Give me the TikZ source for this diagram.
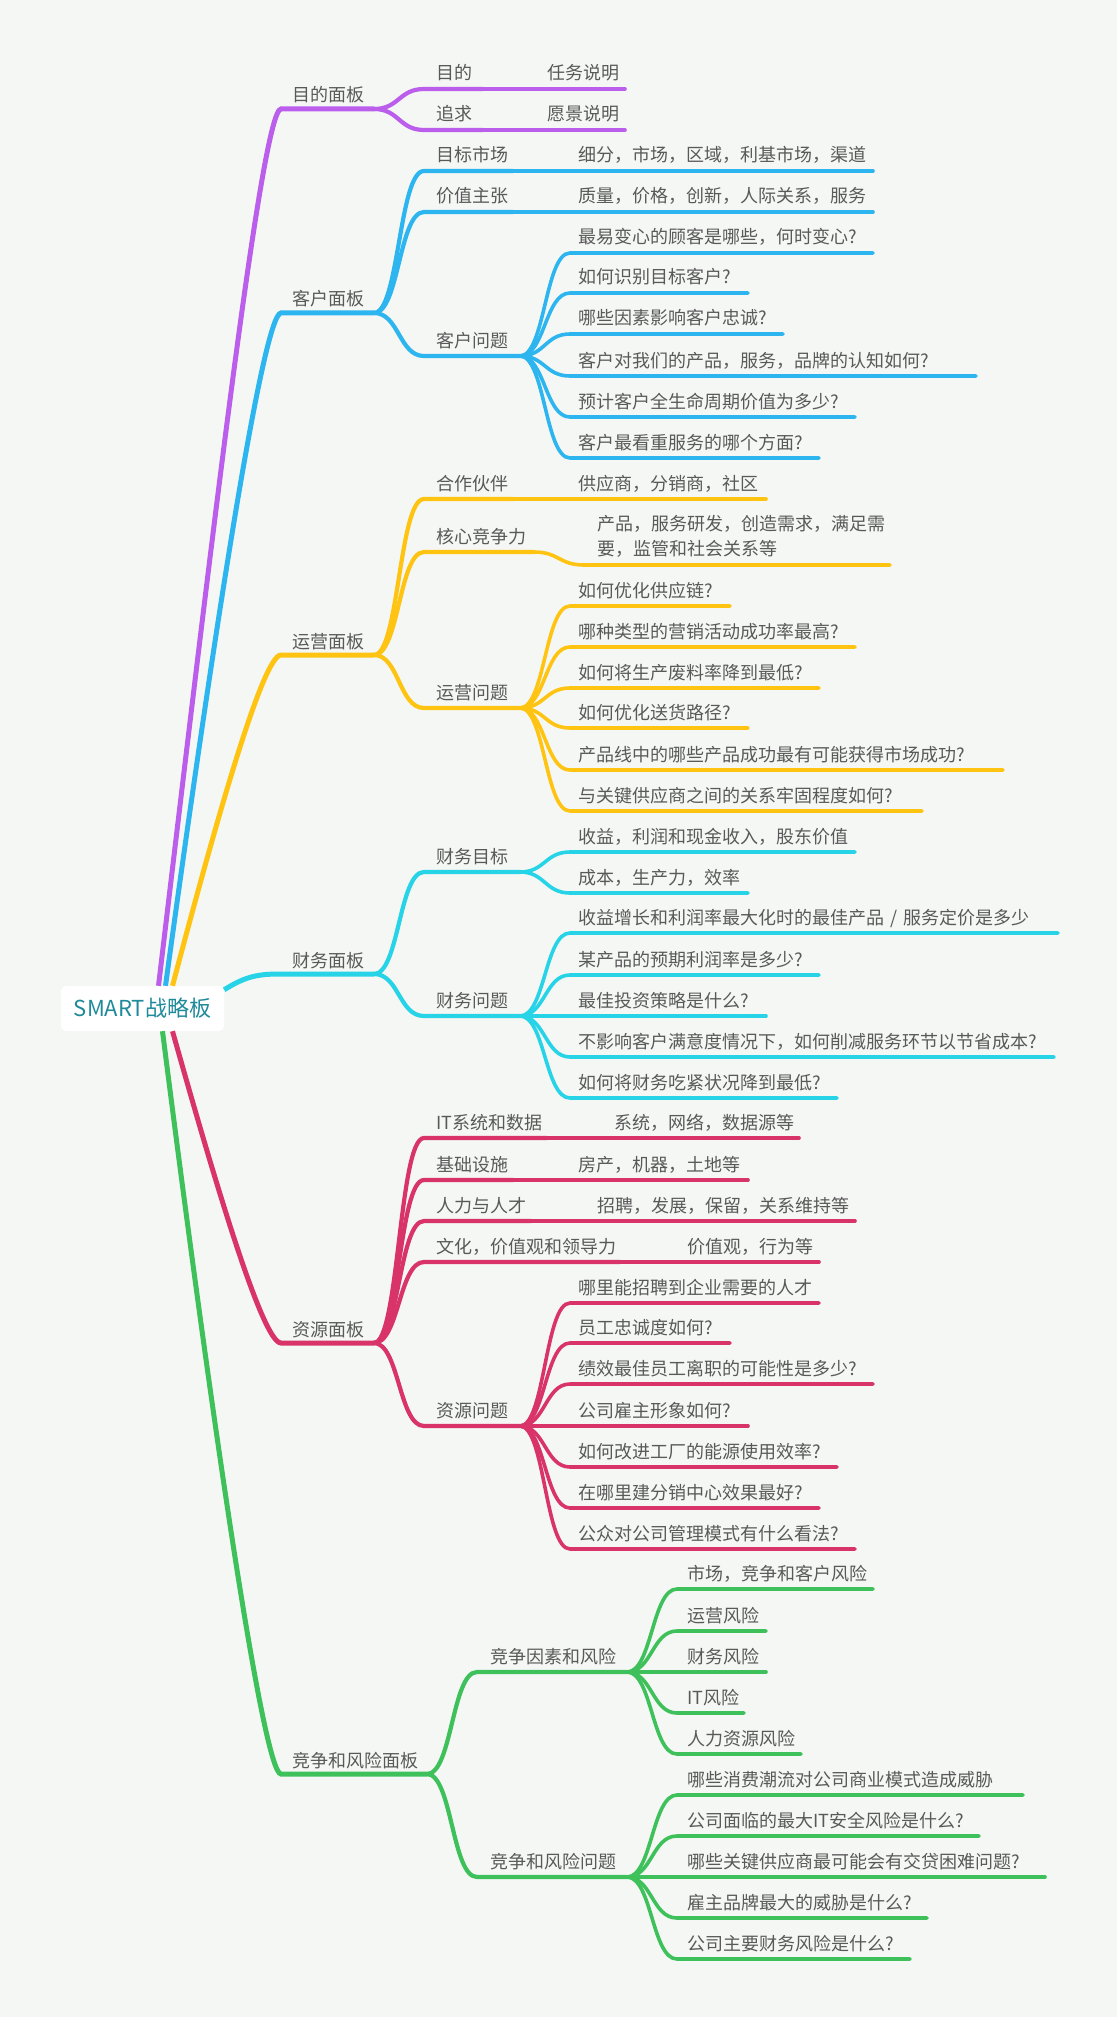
\documentclass[tikz,border=0pt]{standalone}
\usepackage{fontspec}
\setmainfont{Noto Sans CJK SC}
\usepackage{tikz}
\definecolor{bg}{HTML}{F5F7F5}
\definecolor{txtgray}{HTML}{595959}
\definecolor{rootc}{HTML}{1F8A99}
\definecolor{cpurple}{HTML}{BA5EEB}
\definecolor{cblue}{HTML}{2DB5F0}
\definecolor{cyellow}{HTML}{FFC412}
\definecolor{ccyan}{HTML}{27D3E6}
\definecolor{cred}{HTML}{D9346A}
\definecolor{cgreen}{HTML}{3EC15A}
\def\padw{8}
\tikzset{
	centre/.style={
		fill=white, rounded corners=5pt, inner sep=0pt,
		minimum width=163pt, minimum height=45pt,
		text=rootc, font=\fontsize{22}{26}\selectfont
	},
	topic/.style={
		anchor=south west, inner sep=0pt, inner ysep=6pt, outer sep=0pt,
		text height=14pt, text depth=3pt, text width=#1pt,
		text=txtgray, font=\fontsize{18}{25}\selectfont,
		execute at begin node={\hspace*{\padw pt}}
	},
	tpad/.code={\def\padw{#1}},
	board/.style={topic=#1, inner ysep=4pt, tpad=11},
	facet/.style={topic=#1, tpad=12},
	leaf/.style={topic=#1, tpad=8},
	trunk/.style={line width=5pt, line cap=butt},
	twig/.style={line width=4.2pt, line cap=round},
	leafline/.style={line width=3.6pt, line cap=round},
	curl/.style={to path={.. controls +(25,0) and +(-25,0) .. (\tikztotarget)}}
}
\begin{document}
\begin{tikzpicture}[x=1pt, y=-1pt]
	\useasboundingbox (0,0) rectangle (1117,2017);
	\fill[bg] (0,0) rectangle (1117,2017);

	% centre and boards
	\node[centre] (root) at (142.5,1008.5) {SMART战略板};
	\node[board=93]  (pa) at (281,109)  {目的面板};
	\node[board=93]  (pb) at (281,313)  {客户面板};
	\node[board=93]  (pc) at (281,655)  {运营面板};
	\node[board=93]  (pd) at (281,974)  {财务面板};
	\node[board=93]  (pe) at (281,1343) {资源面板};
	\node[board=146] (pf) at (281,1774) {竞争和风险面板};

	\draw[trunk, cpurple] ([shift={(16,0)}]root.north) .. controls +(52,-436) and +(-19,0) .. (pa.south west) -- (pa.south east);
	\draw[trunk, cblue]   ([shift={(23,0)}]root.north) .. controls +(46,-336) and +(-18,0) .. (pb.south west) -- (pb.south east);
	\draw[trunk, cyellow] ([shift={(30,0)}]root.north) .. controls +(44,-166) and +(-18,0) .. (pc.south west) -- (pc.south east);
	\draw[trunk, ccyan]   ([shift={(0,4)}]root.north east) .. controls +(22,-14) and +(-22,0) .. (pd.south west) -- (pd.south east);
	\draw[trunk, cred]    ([shift={(30,0)}]root.south) .. controls +(44,156) and +(-18,0) .. (pe.south west) -- (pe.south east);
	\draw[trunk, cgreen]  ([shift={(20,0)}]root.south) .. controls +(47,371) and +(-18,0) .. (pf.south west) -- (pf.south east);

	% purpose board
	\node[facet=59] (pa1) at (424,89) {目的};
	\node[leaf=142, tpad=64] (pa1v) at (483,89) {任务说明};
	\node[facet=59] (pa2) at (424,130) {追求};
	\node[leaf=142, tpad=64] (pa2v) at (483,130) {愿景说明};
	\draw[twig, cpurple] (pa.south east) to[curl] (pa1.south west) -- (pa1.south east);
	\draw[twig, cpurple] (pa.south east) to[curl] (pa2.south west) -- (pa2.south east);
	\draw[leafline, cpurple] (pa1v.south west) -- (pa1v.south east);
	\draw[leafline, cpurple] (pa2v.south west) -- (pa2v.south east);

	% customer board
	\node[facet=89] (pb1) at (424,171) {目标市场};
	\node[leaf=360, tpad=65] (pb1v) at (513,171) {细分，市场，区域，利基市场，渠道};
	\node[facet=89] (pb2) at (424,212) {价值主张};
	\node[leaf=360, tpad=65] (pb2v) at (513,212) {质量，价格，创新，人际关系，服务};
	\node[facet=96] (pb3) at (424,356) {客户问题};
	\node[leaf=303] (pb3a) at (570,253) {最易变心的顾客是哪些，何时变心?};
	\node[leaf=178] (pb3b) at (570,293) {如何识别目标客户?};
	\node[leaf=213] (pb3c) at (570,334) {哪些因素影响客户忠诚?};
	\node[leaf=406] (pb3d) at (570,376) {客户对我们的产品，服务，品牌的认知如何?};
	\node[leaf=285] (pb3e) at (570,417) {预计客户全生命周期价值为多少?};
	\node[leaf=249] (pb3f) at (570,458) {客户最看重服务的哪个方面?};
	\draw[twig, cblue] (pb.south east) to[curl] (pb1.south west) -- (pb1.south east);
	\draw[twig, cblue] (pb.south east) to[curl] (pb2.south west) -- (pb2.south east);
	\draw[twig, cblue] (pb.south east) to[curl] (pb3.south west) -- (pb3.south east);
	\draw[leafline, cblue] (pb1v.south west) -- (pb1v.south east);
	\draw[leafline, cblue] (pb2v.south west) -- (pb2v.south east);
	\draw[leafline, cblue] (pb3.south east) to[curl] (pb3a.south west) -- (pb3a.south east);
	\draw[leafline, cblue] (pb3.south east) to[curl] (pb3b.south west) -- (pb3b.south east);
	\draw[leafline, cblue] (pb3.south east) to[curl] (pb3c.south west) -- (pb3c.south east);
	\draw[leafline, cblue] (pb3.south east) to[curl] (pb3d.south west) -- (pb3d.south east);
	\draw[leafline, cblue] (pb3.south east) to[curl] (pb3e.south west) -- (pb3e.south east);
	\draw[leafline, cblue] (pb3.south east) to[curl] (pb3f.south west) -- (pb3f.south east);

	% operations board
	\node[facet=89] (pc1) at (424,499) {合作伙伴};
	\node[leaf=253, tpad=65] (pc1v) at (513,499) {供应商，分销商，社区};
	\node[facet=110] (pc2) at (424,552) {核心竞争力};
	\node[leaf=306, tpad=13, text depth=, inner ysep=7.5pt] (pc2v) at (584,565)
		{产品，服务研发，创造需求，满足需\\\hspace*{13pt}要，监管和社会关系等};
	\node[facet=96] (pc3) at (424,708) {运营问题};
	\node[leaf=160] (pc3a) at (570,606) {如何优化供应链?};
	\node[leaf=285] (pc3b) at (570,647) {哪种类型的营销活动成功率最高?};
	\node[leaf=249] (pc3c) at (570,688) {如何将生产废料率降到最低?};
	\node[leaf=178] (pc3d) at (570,728) {如何优化送货路径?};
	\node[leaf=433] (pc3e) at (570,770) {产品线中的哪些产品成功最有可能获得市场成功?};
	\node[leaf=352] (pc3f) at (570,811) {与关键供应商之间的关系牢固程度如何?};
	\draw[twig, cyellow] (pc.south east) to[curl] (pc1.south west) -- (pc1.south east);
	\draw[twig, cyellow] (pc.south east) to[curl] (pc2.south west) -- (pc2.south east);
	\draw[twig, cyellow] (pc.south east) to[curl] (pc3.south west) -- (pc3.south east);
	\draw[leafline, cyellow] (pc1v.south west) -- (pc1v.south east);
	\draw[leafline, cyellow] (pc2.south east) to[curl] (pc2v.south west) -- (pc2v.south east);
	\draw[leafline, cyellow] (pc3.south east) to[curl] (pc3a.south west) -- (pc3a.south east);
	\draw[leafline, cyellow] (pc3.south east) to[curl] (pc3b.south west) -- (pc3b.south east);
	\draw[leafline, cyellow] (pc3.south east) to[curl] (pc3c.south west) -- (pc3c.south east);
	\draw[leafline, cyellow] (pc3.south east) to[curl] (pc3d.south west) -- (pc3d.south east);
	\draw[leafline, cyellow] (pc3.south east) to[curl] (pc3e.south west) -- (pc3e.south east);
	\draw[leafline, cyellow] (pc3.south east) to[curl] (pc3f.south west) -- (pc3f.south east);

	% finance board
	\node[facet=96] (pd1) at (424,872) {财务目标};
	\node[leaf=285] (pd1a) at (570,852) {收益，利润和现金收入，股东价值};
	\node[leaf=178] (pd1b) at (570,893) {成本，生产力，效率};
	\node[facet=96] (pd2) at (424,1016) {财务问题};
	\node[leaf=488] (pd2a) at (570,933) {收益增长和利润率最大化时的最佳产品 / 服务定价是多少};
	\node[leaf=249] (pd2b) at (570,975) {某产品的预期利润率是多少?};
	\node[leaf=196] (pd2c) at (570,1016) {最佳投资策略是什么?};
	\node[leaf=484] (pd2d) at (570,1057) {不影响客户满意度情况下，如何削减服务环节以节省成本?};
	\node[leaf=267] (pd2e) at (570,1098) {如何将财务吃紧状况降到最低?};
	\draw[twig, ccyan] (pd.south east) to[curl] (pd1.south west) -- (pd1.south east);
	\draw[twig, ccyan] (pd.south east) to[curl] (pd2.south west) -- (pd2.south east);
	\draw[leafline, ccyan] (pd1.south east) to[curl] (pd1a.south west) -- (pd1a.south east);
	\draw[leafline, ccyan] (pd1.south east) to[curl] (pd1b.south west) -- (pd1b.south east);
	\draw[leafline, ccyan] (pd2.south east) to[curl] (pd2a.south west) -- (pd2a.south east);
	\draw[leafline, ccyan] (pd2.south east) to[curl] (pd2b.south west) -- (pd2b.south east);
	\draw[leafline, ccyan] (pd2.south east) to[curl] (pd2c.south west) -- (pd2c.south east);
	\draw[leafline, ccyan] (pd2.south east) to[curl] (pd2d.south west) -- (pd2d.south east);
	\draw[leafline, ccyan] (pd2.south east) to[curl] (pd2e.south west) -- (pd2e.south east);

	% resources board
	\node[facet=123] (pe1) at (424,1138) {IT系统和数据};
	\node[leaf=252, tpad=67] (pe1v) at (547,1138) {系统，网络，数据源等};
	\node[facet=89] (pe2) at (424,1180) {基础设施};
	\node[leaf=235, tpad=65] (pe2v) at (513,1180) {房产，机器，土地等};
	\node[facet=107] (pe3) at (424,1221) {人力与人才};
	\node[leaf=324, tpad=66] (pe3v) at (531,1221) {招聘，发展，保留，关系维持等};
	\node[facet=196] (pe4) at (424,1262) {文化，价值观和领导力};
	\node[leaf=199, tpad=67] (pe4v) at (620,1262) {价值观，行为等};
	\node[facet=96] (pe5) at (424,1426) {资源问题};
	\node[leaf=249] (pe5a) at (570,1303) {哪里能招聘到企业需要的人才};
	\node[leaf=160] (pe5b) at (570,1343) {员工忠诚度如何?};
	\node[leaf=303] (pe5c) at (570,1384) {绩效最佳员工离职的可能性是多少?};
	\node[leaf=178] (pe5d) at (570,1426) {公司雇主形象如何?};
	\node[leaf=267] (pe5e) at (570,1467) {如何改进工厂的能源使用效率?};
	\node[leaf=249] (pe5f) at (570,1508) {在哪里建分销中心效果最好?};
	\node[leaf=285] (pe5g) at (570,1549) {公众对公司管理模式有什么看法?};
	\draw[twig, cred] (pe.south east) to[curl] (pe1.south west) -- (pe1.south east);
	\draw[twig, cred] (pe.south east) to[curl] (pe2.south west) -- (pe2.south east);
	\draw[twig, cred] (pe.south east) to[curl] (pe3.south west) -- (pe3.south east);
	\draw[twig, cred] (pe.south east) to[curl] (pe4.south west) -- (pe4.south east);
	\draw[twig, cred] (pe.south east) to[curl] (pe5.south west) -- (pe5.south east);
	\draw[leafline, cred] (pe1v.south west) -- (pe1v.south east);
	\draw[leafline, cred] (pe2v.south west) -- (pe2v.south east);
	\draw[leafline, cred] (pe3v.south west) -- (pe3v.south east);
	\draw[leafline, cred] (pe4v.south west) -- (pe4v.south east);
	\draw[leafline, cred] (pe5.south east) to[curl] (pe5a.south west) -- (pe5a.south east);
	\draw[leafline, cred] (pe5.south east) to[curl] (pe5b.south west) -- (pe5b.south east);
	\draw[leafline, cred] (pe5.south east) to[curl] (pe5c.south west) -- (pe5c.south east);
	\draw[leafline, cred] (pe5.south east) to[curl] (pe5d.south west) -- (pe5d.south east);
	\draw[leafline, cred] (pe5.south east) to[curl] (pe5e.south west) -- (pe5e.south east);
	\draw[leafline, cred] (pe5.south east) to[curl] (pe5f.south west) -- (pe5f.south east);
	\draw[leafline, cred] (pe5.south east) to[curl] (pe5g.south west) -- (pe5g.south east);

	% competition and risk board
	\node[facet=150, tpad=13] (pf1) at (477,1672) {竞争因素和风险};
	\node[leaf=196, tpad=10] (pf1a) at (677,1589) {市场，竞争和客户风险};
	\node[leaf=89, tpad=10]  (pf1b) at (677,1631) {运营风险};
	\node[leaf=89, tpad=10]  (pf1c) at (677,1672) {财务风险};
	\node[leaf=67, tpad=10]  (pf1d) at (677,1713) {IT风险};
	\node[leaf=124, tpad=10] (pf1e) at (677,1754) {人力资源风险};
	\node[facet=150, tpad=13] (pf2) at (477,1877) {竞争和风险问题};
	\node[leaf=346, tpad=10] (pf2a) at (677,1795) {哪些消费潮流对公司商业模式造成威胁};
	\node[leaf=302, tpad=10] (pf2b) at (677,1836) {公司面临的最大IT安全风险是什么?};
	\node[leaf=368, tpad=10] (pf2c) at (677,1877) {哪些关键供应商最可能会有交贷困难问题?};
	\node[leaf=250, tpad=10] (pf2d) at (677,1918) {雇主品牌最大的威胁是什么?};
	\node[leaf=233, tpad=10] (pf2e) at (677,1959) {公司主要财务风险是什么?};
	\draw[twig, cgreen] (pf.south east) to[curl] (pf1.south west) -- (pf1.south east);
	\draw[twig, cgreen] (pf.south east) to[curl] (pf2.south west) -- (pf2.south east);
	\draw[leafline, cgreen] (pf1.south east) to[curl] (pf1a.south west) -- (pf1a.south east);
	\draw[leafline, cgreen] (pf1.south east) to[curl] (pf1b.south west) -- (pf1b.south east);
	\draw[leafline, cgreen] (pf1.south east) to[curl] (pf1c.south west) -- (pf1c.south east);
	\draw[leafline, cgreen] (pf1.south east) to[curl] (pf1d.south west) -- (pf1d.south east);
	\draw[leafline, cgreen] (pf1.south east) to[curl] (pf1e.south west) -- (pf1e.south east);
	\draw[leafline, cgreen] (pf2.south east) to[curl] (pf2a.south west) -- (pf2a.south east);
	\draw[leafline, cgreen] (pf2.south east) to[curl] (pf2b.south west) -- (pf2b.south east);
	\draw[leafline, cgreen] (pf2.south east) to[curl] (pf2c.south west) -- (pf2c.south east);
	\draw[leafline, cgreen] (pf2.south east) to[curl] (pf2d.south west) -- (pf2d.south east);
	\draw[leafline, cgreen] (pf2.south east) to[curl] (pf2e.south west) -- (pf2e.south east);
\end{tikzpicture}
\end{document}
